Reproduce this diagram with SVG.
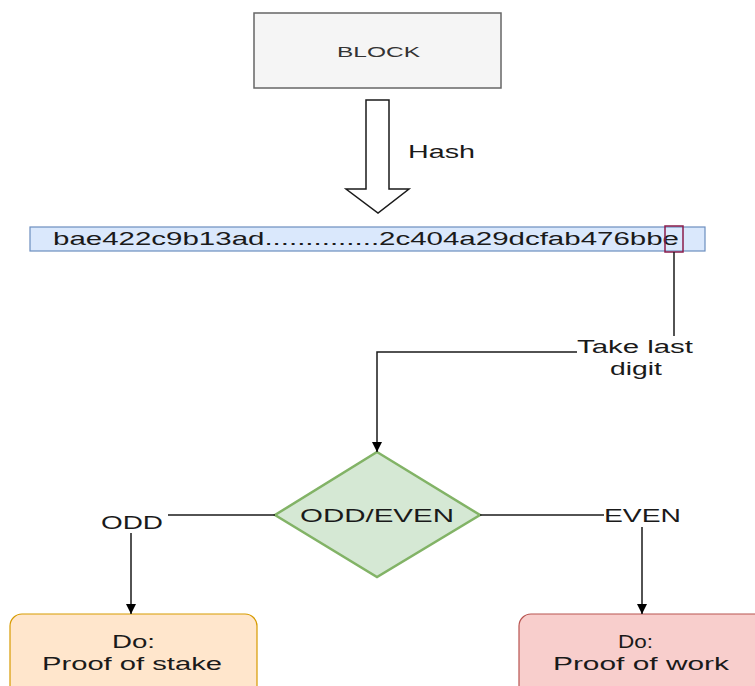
<svg xmlns="http://www.w3.org/2000/svg" width="755" height="686" viewBox="0 0 755 686">
  <style>
    text { font-family: "Liberation Sans", Arial, sans-serif; fill: #1a1a1a; }
    .lbl { font-size: 18px; }
    .edge { fill: none; stroke: #1a1a1a; stroke-width: 1.5; }
  </style>
  <defs>
    <marker id="tri" viewBox="0 0 10 10" refX="10" refY="5" markerWidth="10" markerHeight="10" markerUnits="userSpaceOnUse" orient="auto">
      <path d="M0,0 L10,5 L0,10 Z" fill="#000"/>
    </marker>
  </defs>

  <rect width="755" height="686" fill="#ffffff"/>

  <g id="block">
    <rect x="254" y="13" width="247" height="75" fill="#f5f5f5" stroke="#666666" stroke-width="1.5"/>
    <text x="337" y="57" font-size="15" textLength="83" lengthAdjust="spacingAndGlyphs" style="fill:#333333">BLOCK</text>
  </g>

  <g id="hash-arrow">
    <path d="M366,100 L389,100 L389,189 L409,189 L378,213 L346,189 L366,189 Z" fill="#ffffff" stroke="#1a1a1a" stroke-width="1.5"/>
    <text class="lbl" x="408" y="158" textLength="67" lengthAdjust="spacingAndGlyphs">Hash</text>
  </g>

  <g id="hash-value">
    <rect x="30" y="227" width="675" height="24" fill="#dae8fc" stroke="#6c8ebf" stroke-width="1.2"/>
    <text class="lbl" x="53" y="245" textLength="626" lengthAdjust="spacingAndGlyphs">bae422c9b13ad..............2c404a29dcfab476bbe</text>
  </g>

  <g id="last-digit">
    <rect x="665" y="226" width="18" height="26" fill="none" stroke="#8b1c4b" stroke-width="1.5"/>
  </g>

  <g id="decision">
    <path d="M377,452 L480,515 L377,577 L275,515 Z" fill="#d5e8d4" stroke="#82b366" stroke-width="2.5"/>
    <text class="lbl" x="300" y="522" textLength="154" lengthAdjust="spacingAndGlyphs">ODD/EVEN</text>
  </g>

  <g id="proof-of-stake">
    <rect x="10" y="614" width="247" height="90" rx="12" fill="#ffe6cc" stroke="#d79b00" stroke-width="1.2"/>
    <text class="lbl" x="112" y="648" textLength="43" lengthAdjust="spacingAndGlyphs">Do:</text>
    <text class="lbl" x="42" y="670" textLength="180" lengthAdjust="spacingAndGlyphs">Proof of stake</text>
  </g>

  <g id="proof-of-work">
    <rect x="519" y="614" width="260" height="90" rx="12" fill="#f8cecc" stroke="#b85450" stroke-width="1.2"/>
    <text class="lbl" x="618" y="648" textLength="35" lengthAdjust="spacingAndGlyphs">Do:</text>
    <text class="lbl" x="553" y="670" textLength="176" lengthAdjust="spacingAndGlyphs">Proof of work</text>
  </g>

  <g id="connectors">
    <path class="edge" d="M674,252 L674,336"/>
    <path class="edge" d="M577,352 L377,352 L377,452" marker-end="url(#tri)"/>
    <text class="lbl" x="577" y="353" textLength="116" lengthAdjust="spacingAndGlyphs">Take last</text>
    <text class="lbl" x="610" y="375" textLength="52" lengthAdjust="spacingAndGlyphs">digit</text>

    <path class="edge" d="M275,515 L168,515"/>
    <text class="lbl" x="101" y="529" textLength="62" lengthAdjust="spacingAndGlyphs">ODD</text>
    <path class="edge" d="M131,533 L131,614" marker-end="url(#tri)"/>

    <path class="edge" d="M480,515 L604,515"/>
    <text class="lbl" x="604" y="522" textLength="77" lengthAdjust="spacingAndGlyphs">EVEN</text>
    <path class="edge" d="M642,527 L642,614" marker-end="url(#tri)"/>
  </g>
</svg>
